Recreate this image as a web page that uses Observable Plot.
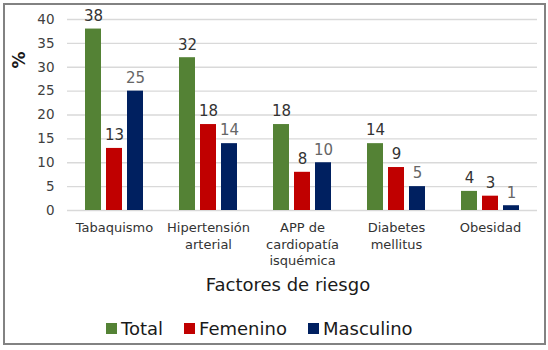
<!DOCTYPE html>
<html>
<head>
<meta charset="utf-8">
<script src="https://cdn.jsdelivr.net/npm/d3@7"></script>
<script src="https://cdn.jsdelivr.net/npm/@observablehq/plot@0.6"></script>
<style>
  html, body { margin: 0; padding: 0; background: #fff; }
  body { width: 548px; height: 350px; position: relative; overflow: hidden; font-family: "DejaVu Sans", Verdana, sans-serif; }
  #frame { position: absolute; left: 3px; top: 3px; width: 543px; height: 342px; box-sizing: border-box; border: 2px solid #828282; pointer-events: none; }
  #chart { position: absolute; left: 0; top: 0; }
  #xtitle { position: absolute; left: 188px; width: 200px; top: 274px; text-align: center; font-size: 18px; color: #1a1a1a; }
  #ytitle { position: absolute; left: 9px; top: 51px; width: 20px; height: 18px; font-size: 17px; font-weight: bold; color: #1a1a1a; transform: rotate(-90deg); text-align: center; line-height: 18px; }
  #legend { position: absolute; left: 106px; top: 318px; display: flex; align-items: center; font-size: 18px; color: #1a1a1a; }
  .item { display: flex; align-items: center; margin-right: 21px; }
  .sw { width: 11px; height: 11px; margin-right: 4px; }
</style>
</head>
<body>
<div id="chart"></div>
<div id="ytitle">%</div>
<div id="xtitle">Factores de riesgo</div>
<div id="legend"></div>
<div id="frame"></div>
<script>
const categories = ["Tabaquismo", "Hipertensión arterial", "APP de cardiopatía isquémica", "Diabetes mellitus", "Obesidad"];
const categoryLabels = ["Tabaquismo", "Hipertensión\narterial", "APP de\ncardiopatía\nisquémica", "Diabetes\nmellitus", "Obesidad"];
const series = ["Total", "Femenino", "Masculino"];
const seriesColors = ["#548235", "#C00000", "#002060"];
const totalValues = [38, 32, 18, 14, 4];
const femeninoValues = [13, 18, 8, 9, 3];
const masculinoValues = [25, 14, 10, 5, 1];
const yTicks = [0, 5, 10, 15, 20, 25, 30, 35, 40];

const valuesBySeries = [totalValues, femeninoValues, masculinoValues];
const data = [];
categories.forEach((c, i) => {
  series.forEach((s, j) => {
    data.push({cat: c, series: s, value: valuesBySeries[j][i]});
  });
});
const labelOf = new Map(categories.map((c, i) => [c, categoryLabels[i]]));

const chart = Plot.plot({
  width: 548,
  height: 270,
  marginLeft: 66,
  marginRight: 10,
  marginTop: 19,
  marginBottom: 60,
  style: {fontFamily: "DejaVu Sans, Verdana, sans-serif", fontSize: "13px", color: "#404040", background: "transparent"},
  fx: {domain: categories, padding: 0},
  x: {domain: series, paddingInner: 0.24, paddingOuter: 0.8, axis: null},
  y: {domain: [0, 40]},
  color: {domain: series, range: seriesColors},
  marks: [
    Plot.gridY(yTicks, {stroke: "#d9d9d9", strokeOpacity: 1, strokeWidth: 1.3}),
    Plot.barY(data, {fx: "cat", x: "series", y: "value", fill: "series"}),
    Plot.text(data, {filter: d => d.series !== "Masculino", fx: "cat", x: "series", y: "value", text: d => String(d.value), dy: -13, fontSize: 15, fill: "#333333"}),
    Plot.text(data, {filter: d => d.series === "Masculino", fx: "cat", x: "series", y: "value", text: d => String(d.value), dy: -13, fontSize: 15, fill: "#666666"}),
    Plot.axisY(yTicks, {tickSize: 0, tickPadding: 13, fontSize: 13.5, fill: "#404040", label: null}),
    Plot.axisFx({anchor: "bottom", tickSize: 0, tickPadding: 10, fontSize: 13, lineHeight: 1.27, fill: "#333333", label: null, tickFormat: d => labelOf.get(d)})
  ]
});
document.getElementById("chart").appendChild(chart);

const legend = document.getElementById("legend");
series.forEach((s, i) => {
  const item = document.createElement("div");
  item.className = "item";
  const sw = document.createElement("div");
  sw.className = "sw";
  sw.style.background = seriesColors[i];
  const t = document.createElement("span");
  t.textContent = s;
  item.appendChild(sw);
  item.appendChild(t);
  legend.appendChild(item);
});
</script>
</body>
</html>
